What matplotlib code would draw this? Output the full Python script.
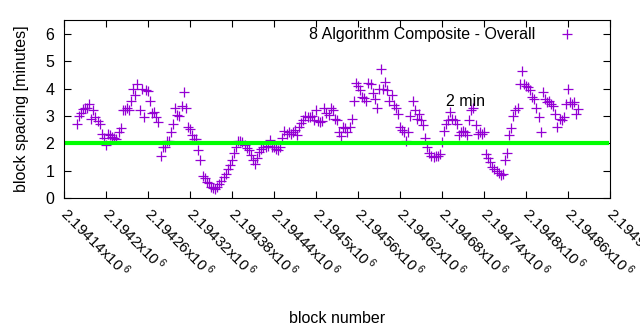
import matplotlib
matplotlib.use("Agg")
import matplotlib.pyplot as plt

plt.rcParams['font.family'] = ['Liberation Sans', 'DejaVu Sans']
plt.rcParams['mathtext.fontset'] = 'custom'
plt.rcParams['mathtext.rm'] = 'Liberation Sans'
plt.rcParams['mathtext.default'] = 'regular'

# block spacing (minutes), one reading every 3 blocks starting at first_block
first_block = 2194158
block_step = 3
spacing = [
    2.72, 3.0, 3.1, 3.25, 3.3, 3.3, 3.45, 2.9, 3.2, 2.95,
    2.8, 2.7, 2.35, 2.2, 1.93, 2.35, 2.3, 2.22, 2.2, 2.17,
    2.4, 2.55, 3.2, 3.2, 3.3, 3.2, 3.55, 4.0, 3.75, 4.15,
    3.2, 4.0, 2.95, 3.95, 3.9, 3.55, 3.1, 3.15, 2.95, 2.78,
    1.55, 1.87, 1.85, 2.1, 2.1, 2.4, 2.72, 3.3, 3.05, 3.0,
    3.38, 3.87, 3.3, 2.6, 2.53, 2.3, 2.17, 2.15, 1.77, 1.38,
    0.82, 0.72, 0.6, 0.53, 0.42, 0.37, 0.32, 0.4, 0.5, 0.62,
    0.77, 0.87, 1.05, 1.2, 1.38, 1.65, 1.87, 2.1, 2.1, 2.05,
    1.93, 1.82, 1.75, 1.56, 1.4, 1.26, 1.45, 1.68, 1.8, 1.87,
    1.87, 1.9, 2.12, 1.87, 1.85, 1.8, 1.75, 1.85, 2.2, 2.45,
    2.35, 2.4, 2.35, 2.4, 2.5, 2.3, 2.6, 2.75, 2.85, 3.0,
    2.95, 2.95, 3.0, 2.85, 3.2, 2.8, 2.78, 2.8, 3.3, 3.1,
    3.05, 3.3, 3.2, 2.9, 2.85, 2.4, 2.25, 2.6, 2.55, 2.4,
    2.6, 2.9, 3.55, 4.2, 4.1, 3.95, 3.7, 3.65, 3.55, 4.2,
    4.15, 3.85, 3.6, 3.3, 4.0, 4.7, 4.0, 4.25, 3.95, 3.55,
    3.75, 3.4, 3.3, 3.08, 2.6, 2.5, 2.4, 2.1, 2.4, 3.0,
    3.55, 3.2, 2.9, 3.08, 2.85, 2.65, 2.2, 1.87, 1.65, 1.52,
    1.5, 1.52, 1.55, 1.62, 2.05, 2.45, 2.7, 2.84, 3.14, 2.9,
    2.85, 2.72, 2.3, 2.4, 2.45, 2.4, 2.3, 2.85, 3.2, 3.3,
    2.65, 2.35, 2.4, 2.35, 2.41, 1.62, 1.45, 1.3, 1.15, 1.05,
    0.98, 0.9, 0.85, 0.88, 1.38, 1.65, 2.3, 2.55, 3.0, 3.2,
    3.3, 4.17, 4.65, 4.17, 4.1, 4.05, 3.93, 3.7, 3.6, 3.3,
    2.96, 2.41, 3.87, 3.6, 3.5, 3.56, 3.45, 3.38, 3.08, 2.6,
    2.9, 2.85, 2.95, 3.44, 4.0, 3.5, 3.45, 3.5, 3.08, 3.26,
]
blocks = [first_block + block_step * i for i in range(len(spacing))]

target = 2
x_ticks = [2194140, 2194200, 2194260, 2194320, 2194380, 2194440, 2194500,
           2194560, 2194620, 2194680, 2194740, 2194800, 2194860, 2194920]
x_tick_labels = ['2.19414', '2.1942', '2.19426', '2.19432', '2.19438', '2.19444', '2.1945',
                 '2.19456', '2.19462', '2.19468', '2.19474', '2.1948', '2.19486', '2.19492']

fs = 11.5
fig = plt.figure(figsize=(6.4, 3.3), dpi=100)
ax = fig.add_axes([0.1, 0.4, 0.853, 0.539])

ax.plot(blocks, spacing, linestyle='none', marker='+', markersize=6.5,
        markeredgewidth=0.9, color='#9400d3', label='8 Algorithm Composite - Overall')
ax.axhline(target, xmin=0.005, xmax=0.995, color='#00ff00', linewidth=3)
ax.text(2194686, 3.53, '2 min', fontsize=fs, ha='left', va='center')

ax.set_xlim(x_ticks[0], x_ticks[-1])
ax.set_ylim(0, 6.5)
ax.set_yticks(range(0, 7))
ax.set_xticks(x_ticks)
ax.set_xticklabels([lab + r'x10$\,^{6}$' for lab in x_tick_labels], fontsize=11,
                   rotation=-45, ha='left', va='center', rotation_mode='anchor')
ax.tick_params(direction='in', top=True, right=True, length=5)
ax.tick_params(axis='y', pad=7, labelsize=fs)
ax.tick_params(axis='x', pad=9)

ax.set_xlabel('block number', fontsize=fs, labelpad=22)
ax.set_ylabel('block spacing [minutes]', fontsize=fs, labelpad=12)

ax.legend(loc='upper right', bbox_to_anchor=(0.962, 0.995), frameon=False,
          markerfirst=False, fontsize=fs, handlelength=2, borderaxespad=0,
          handletextpad=1.0)

fig.savefig('out.png', dpi=100)
